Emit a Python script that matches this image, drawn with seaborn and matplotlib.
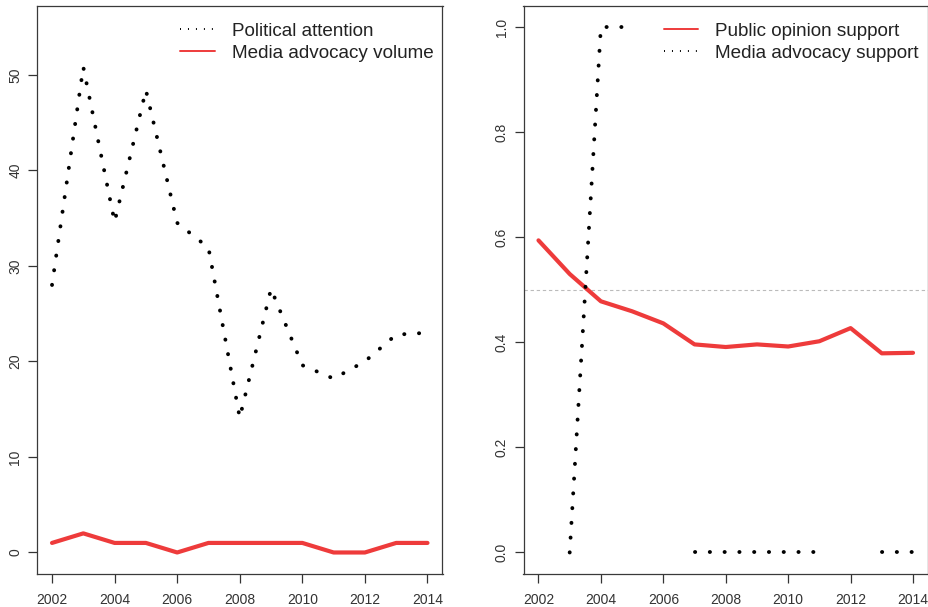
import numpy as np
import pandas as pd
import matplotlib
matplotlib.use("Agg")
import matplotlib.pyplot as plt
from matplotlib.lines import Line2D
import seaborn as sns

# ---- data -------------------------------------------------------------
years = [2002, 2003, 2004, 2005, 2006, 2007, 2008, 2009, 2010, 2011, 2012, 2013, 2014]
political_attention = [28.0, 50.8, 34.6, 48.4, 34.5, 31.9, 14.1, 27.6, 19.6, 18.2, 20.0, 22.8, 23.0]
media_volume = [1, 2, 1, 1, 0, 1, 1, 1, 1, 0, 0, 1, 1]
public_support = [0.594, 0.530, 0.478, 0.459, 0.436, 0.396, 0.391, 0.396, 0.392, 0.402, 0.427, 0.379, 0.380]
media_support = [np.nan, 0.0, 1.0, 1.0, np.nan, 0.0, 0.0, 0.0, 0.0, 0.0, np.nan, 0.0, 0.0]
year_ticks = [2002, 2004, 2006, 2008, 2010, 2012, 2014]
left_yticks = [0, 10, 20, 30, 40, 50]
right_yticks = [0.0, 0.2, 0.4, 0.6, 0.8, 1.0]
reference_level = 0.5

# ---- style ------------------------------------------------------------
sns.set_theme(style="white")
plt.rcParams["font.family"] = ["Liberation Sans", "DejaVu Sans"]

RED = "#EE3B3B"
INK = "#333333"
TICK_FS = 10.0
LEG_FS = 13.6


def runs(x, y):
    """Split a series with gaps into contiguous runs (NA breaks the line)."""
    df = pd.DataFrame({"year": x, "value": y})
    df["run"] = df["value"].isna().cumsum()
    return df.dropna()


def style_axes(ax, ylim, yticks, yticklabels):
    ax.set_xlim(2002 - 0.48, 2014 + 0.48)
    ax.set_ylim(*ylim)
    ax.set_xticks(year_ticks)
    ax.set_xticklabels([str(y) for y in year_ticks])
    ax.set_yticks(yticks)
    ax.set_yticklabels(yticklabels, rotation=90, va="center")
    ax.tick_params(axis="both", direction="out", length=6.2, width=0.9,
                   color=INK, labelcolor=INK, labelsize=TICK_FS,
                   left=True, bottom=True)
    ax.tick_params(axis="x", pad=7.5)
    ax.tick_params(axis="y", pad=4.5)
    for sp in ax.spines.values():
        sp.set_visible(True)
        sp.set_color("#3a3a3a")
        sp.set_linewidth(0.9)
    ax.set_xlabel("")
    ax.set_ylabel("")
    ax.grid(False)


def add_legend(ax, handles, labels):
    w = ax.get_position().width * 929
    h = ax.get_position().height * 607
    ax.legend(handles, labels, loc="upper right", frameon=False,
              fontsize=LEG_FS, handlelength=1.85, handletextpad=0.9,
              labelspacing=0.27, borderpad=0.0, borderaxespad=0.0,
              bbox_to_anchor=(1 - 9.0 / w, 1 - 16.5 / h),
              labelcolor="#222222")


dotted = dict(linestyle=(0, (0.05, 3.75)), dash_capstyle="round")

fig = plt.figure(figsize=(9.29, 6.07), dpi=100)
ax1 = fig.add_axes([37 / 929, 1 - 573.5 / 607, 405.5 / 929, 567.5 / 607])
ax2 = fig.add_axes([523.5 / 929, 1 - 573.5 / 607, 404.5 / 929, 567.5 / 607])

# ---- left panel: attention vs. advocacy volume -------------------------
pa = pd.DataFrame({"year": years, "value": political_attention})
sns.lineplot(data=pa, x="year", y="value", ax=ax1, color="black",
             linewidth=2.8, **dotted)
mv = pd.DataFrame({"year": years, "value": media_volume})
sns.lineplot(data=mv, x="year", y="value", ax=ax1, color=RED, linewidth=3.0)
style_axes(ax1, (-2.2, 57.2), left_yticks, [str(v) for v in left_yticks])

h1 = [Line2D([], [], color="black", linewidth=1.4, linestyle=(0, (0.5, 3.6))),
      Line2D([], [], color=RED, linewidth=1.4)]
add_legend(ax1, h1, ["Political attention", "Media advocacy volume"])

# ---- right panel: support measures -------------------------------------
ax2.axhline(reference_level, color="#BBBBBB", linewidth=0.8,
            linestyle=(0, (3, 2.5)), zorder=0)
ps = pd.DataFrame({"year": years, "value": public_support})
sns.lineplot(data=ps, x="year", y="value", ax=ax2, color=RED, linewidth=3.0)
ms = runs(years, media_support)
sns.lineplot(data=ms, x="year", y="value", units="run", estimator=None,
             ax=ax2, color="black", linewidth=2.8, **dotted)
style_axes(ax2, (-0.04, 1.04), right_yticks, [f"{v:.1f}" for v in right_yticks])

h2 = [Line2D([], [], color=RED, linewidth=1.4),
      Line2D([], [], color="black", linewidth=1.4, linestyle=(0, (0.5, 3.6)))]
add_legend(ax2, h2, ["Public opinion support", "Media advocacy support"])

fig.savefig("out.png", dpi=100)
